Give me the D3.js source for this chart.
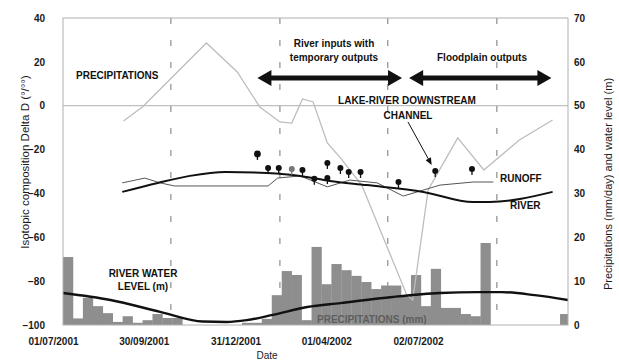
<!DOCTYPE html>
<html>
<head>
<meta charset="utf-8">
<script src="https://cdn.jsdelivr.net/npm/d3@7"></script>
<style>
body { margin: 0; background: #fff; }
svg { display: block; font-family: "Liberation Sans", Arial, sans-serif; }
</style>
</head>
<body>
<script>
"use strict";

var parseDay = d3.timeParse("%d/%m/%Y");

// axis ticks
var axisDates = ["01/07/2001", "30/09/2001", "31/12/2001", "01/04/2002", "02/07/2002"];
var leftTicks = [-100, -80, -60, -40, -20, 0, 20, 40];
var rightTicks = [0, 10, 20, 30, 40, 50, 60, 70];

// precipitation bars (mm), successive periods from 01/07/2001
var rainMm = [15.5, 1.5, 6.2, 4.3, 2.7, 0.7, 2.0, 0.5, 1.1, 2.5,
	1.6, 1.6, 0, 0, 0, 0, 0, 0, 0.5, 0.5,
	1.4, 6.8, 12.3, 11.4, 1.1, 17.8, 9.3, 13.9, 12.5, 11.2,
	9.8, 8.2, 9.0, 9.0, 6.8, 11.4, 4.3, 12.8, 3.9, 3.9,
	2.5, 2.0, 18.7, 0, 0, 0, 0, 0, 0, 0, 2.5];

// river water level (m)
var levelDates = ["01/07/2001", "10/08/2001", "21/09/2001", "27/10/2001", "16/11/2001",
	"03/12/2001", "25/12/2001", "23/01/2002", "20/02/2002", "05/04/2002",
	"15/05/2002", "16/06/2002", "06/07/2002", "03/08/2002", "31/08/2002"];
var levelM = [7.3, 5.7, 3.0, 0.8, 0.7, 1.1, 2.3, 4.1, 5.0, 6.4, 7.3, 7.5, 7.5, 6.8, 5.7];

// delta D of precipitations
var precipDates = ["21/08/2001", "06/09/2001", "30/10/2001", "25/11/2001", "14/12/2001",
	"31/12/2001", "10/01/2002", "19/01/2002", "28/01/2002", "09/02/2002",
	"20/02/2002", "10/03/2002", "17/04/2002", "22/04/2002", "05/05/2002",
	"30/05/2002", "21/06/2002", "21/07/2002", "18/08/2002"];
var precipDD = [-7, -0.6, 28.6, 15.4, -0.6, -7.4, -7.9, 3.1, 1.7, -17,
	-23.8, -36.2, -86.3, -88.6, -38.4, -14.7, -29.3, -15.6, -6.5];

// delta D of the river
var riverDates = ["20/08/2001", "19/09/2001", "16/10/2001", "15/11/2001", "20/12/2001",
	"17/01/2002", "11/02/2002", "14/03/2002", "01/05/2002", "12/06/2002",
	"26/06/2002", "18/08/2002"];
var riverDD = [-39.3, -35.2, -32.0, -30.2, -30.7, -32.0, -34.3, -36.2, -39.3, -43.9, -43.9, -39.3];

// delta D of runoff
var runoffDates = ["20/08/2001", "08/09/2001", "21/09/2001", "03/10/2001", "21/12/2001",
	"29/12/2001", "17/01/2002", "09/02/2002", "28/02/2002", "23/03/2002",
	"14/04/2002", "15/05/2002", "12/06/2002", "29/06/2002"];
var runoffDD = [-35.2, -33.0, -35.2, -36.6, -36.6, -33.0, -32.0, -37.0, -33.9, -35.2,
	-41.2, -36.2, -34.8, -34.8];

// lake-river downstream channel samples
var channelDates = ["12/12/2001", "21/12/2001", "30/12/2001", "10/01/2002", "19/01/2002",
	"29/01/2002", "09/02/2002", "09/02/2002", "20/02/2002", "27/02/2002",
	"09/03/2002", "10/04/2002", "11/05/2002", "11/06/2002"];
var channelDD = [-22.0, -28.4, -28.4, -28.9, -29.3, -33.3, -26.1, -33.0, -28.4, -30.2,
	-30.2, -34.8, -29.8, -28.9];

function zipSeries(dates, vals) {
	return dates.map(function (d, i) {
		return { date: parseDay(d), v: vals[i] };
	});
}

var W = 619, H = 360;
var pL = 63, pR = 568, pT = 18, pB = 325;

var svg = d3.select("body").append("svg")
	.attr("width", W)
	.attr("height", H);

svg.append("defs").append("clipPath")
	.attr("id", "plotClip")
	.append("rect")
	.attr("x", pL).attr("y", pT)
	.attr("width", pR - pL).attr("height", pB - pT);

var x = d3.scaleTime()
	.domain([parseDay("01/07/2001"), parseDay("31/08/2002")])
	.range([pL, pR]);

// the printed date labels sit left of their gridlines in the original figure
var xLabels = d3.scaleTime()
	.domain([parseDay(axisDates[0]), parseDay(axisDates[4])])
	.range([53, 418]);

var yL = d3.scaleLinear().domain([-100, 40]).range([pB, pT]);
var yR = d3.scaleLinear().domain([0, 70]).range([pB, pT]);

var xBar = d3.scaleBand()
	.domain(d3.range(rainMm.length))
	.range([pL, 570])
	.padding(0);

// gridlines
svg.append("g")
	.selectAll("line")
	.data(axisDates.slice(1).map(parseDay))
	.enter().append("line")
	.attr("x1", function (d) { return x(d); })
	.attr("x2", function (d) { return x(d); })
	.attr("y1", pT)
	.attr("y2", pB)
	.attr("stroke", "#666")
	.attr("stroke-width", 0.9)
	.attr("stroke-dasharray", "6,16");

svg.append("line")
	.attr("x1", pL).attr("x2", pR)
	.attr("y1", yL(0)).attr("y2", yL(0))
	.attr("stroke", "#b0b0b0");

var plot = svg.append("g").attr("clip-path", "url(#plotClip)");

// precipitation bars
plot.append("g")
	.selectAll("rect")
	.data(rainMm)
	.enter().append("rect")
	.attr("x", function (d, i) { return xBar(i); })
	.attr("y", function (d) { return yR(d); })
	.attr("width", xBar.bandwidth() + 0.3)
	.attr("height", function (d) { return yR(0) - yR(d); })
	.attr("fill", "#8e8e8e");

svg.append("text")
	.attr("x", 317)
	.attr("y", 323)
	.attr("font-size", "10px")
	.attr("font-weight", "bold")
	.attr("fill", "#5e5e5e")
	.text("PRECIPITATIONS (mm)");

// frame
svg.append("rect")
	.attr("x", pL).attr("y", pT)
	.attr("width", pR - pL).attr("height", pB - pT)
	.attr("fill", "none")
	.attr("stroke", "#b0b0b0");

var lineL = d3.line()
	.x(function (d) { return x(d.date); })
	.y(function (d) { return yL(d.v); });

var smoothL = d3.line()
	.curve(d3.curveMonotoneX)
	.x(function (d) { return x(d.date); })
	.y(function (d) { return yL(d.v); });

var smoothR = d3.line()
	.curve(d3.curveMonotoneX)
	.x(function (d) { return x(d.date); })
	.y(function (d) { return yR(d.v); });

plot.append("path")
	.attr("d", lineL(zipSeries(precipDates, precipDD)))
	.attr("fill", "none")
	.attr("stroke", "#bdbdbd")
	.attr("stroke-width", 1.3);

plot.append("path")
	.attr("d", lineL(zipSeries(runoffDates, runoffDD)))
	.attr("fill", "none")
	.attr("stroke", "#555")
	.attr("stroke-width", 1);

plot.append("path")
	.attr("d", smoothL(zipSeries(riverDates, riverDD)))
	.attr("fill", "none")
	.attr("stroke", "#111")
	.attr("stroke-width", 2);

plot.append("path")
	.attr("d", smoothR(zipSeries(levelDates, levelM)))
	.attr("fill", "none")
	.attr("stroke", "#111")
	.attr("stroke-width", 2.4);

// channel samples
var channel = zipSeries(channelDates, channelDD);
var pins = svg.append("g").selectAll("g")
	.data(channel)
	.enter().append("g");

pins.append("line")
	.attr("x1", function (d) { return x(d.date); })
	.attr("x2", function (d) { return x(d.date); })
	.attr("y1", function (d) { return yL(d.v); })
	.attr("y2", function (d) { return yL(d.v) + 6; })
	.attr("stroke", function (d, i) { return i === 3 ? "#777" : "#111"; })
	.attr("stroke-width", 1.3);

pins.append("circle")
	.attr("cx", function (d) { return x(d.date); })
	.attr("cy", function (d) { return yL(d.v); })
	.attr("r", function (d, i) { return i === 0 ? 3.4 : 3; })
	.attr("fill", function (d, i) { return i === 3 ? "#777" : "#111"; });

// period arrows
function bigArrow(x1, x2, yy) {
	var h = 14, w = 8, t = 2.5;
	return "M" + x1 + "," + yy +
		"L" + (x1 + h) + "," + (yy - w) + "L" + (x1 + h) + "," + (yy - t) +
		"L" + (x2 - h) + "," + (yy - t) + "L" + (x2 - h) + "," + (yy - w) +
		"L" + x2 + "," + yy +
		"L" + (x2 - h) + "," + (yy + w) + "L" + (x2 - h) + "," + (yy + t) +
		"L" + (x1 + h) + "," + (yy + t) + "L" + (x1 + h) + "," + (yy + w) + "Z";
}

var arrowY = yL(12.6);
svg.append("path")
	.attr("d", bigArrow(x(parseDay("12/12/2001")), x(parseDay("13/04/2002")), arrowY))
	.attr("fill", "#111");
svg.append("path")
	.attr("d", bigArrow(x(parseDay("19/04/2002")), x(parseDay("17/08/2002")), arrowY))
	.attr("fill", "#111");

// pointer to the channel sample
var px1 = x(parseDay("18/04/2002")), py1 = yL(-7.4);
var px2 = x(parseDay("08/05/2002")), py2 = yL(-27);
var ang = Math.atan2(py2 - py1, px2 - px1);
svg.append("line")
	.attr("x1", px1).attr("y1", py1)
	.attr("x2", px2 - 4 * Math.cos(ang)).attr("y2", py2 - 4 * Math.sin(ang))
	.attr("stroke", "#111")
	.attr("stroke-width", 1);
svg.append("path")
	.attr("d", "M0,0L-7,-3L-7,3Z")
	.attr("transform", "translate(" + px2 + "," + py2 + ") rotate(" + (ang * 180 / Math.PI) + ")")
	.attr("fill", "#111");

// annotations
var notes = [
	{ t: "PRECIPITATIONS", x: 76, y: 79, a: "start" },
	{ t: "River inputs with", x: 334, y: 46.5, a: "middle" },
	{ t: "temporary outputs", x: 334, y: 60.5, a: "middle" },
	{ t: "Floodplain outputs", x: 482, y: 60.5, a: "middle" },
	{ t: "LAKE-RIVER DOWNSTREAM", x: 407, y: 103.5, a: "middle" },
	{ t: "CHANNEL", x: 408, y: 118.5, a: "middle" },
	{ t: "RUNOFF", x: 500, y: 181.5, a: "start" },
	{ t: "RIVER", x: 510, y: 208.5, a: "start" },
	{ t: "RIVER WATER", x: 143, y: 276.5, a: "middle" },
	{ t: "LEVEL (m)", x: 143, y: 289.5, a: "middle" }
];

svg.append("g")
	.selectAll("text")
	.data(notes)
	.enter().append("text")
	.attr("x", function (d) { return d.x; })
	.attr("y", function (d) { return d.y; })
	.attr("text-anchor", function (d) { return d.a; })
	.attr("font-size", "10px")
	.attr("font-weight", "bold")
	.attr("fill", "#111")
	.text(function (d) { return d.t; });

// axes
var gLeft = svg.append("g")
	.attr("transform", "translate(" + pL + ",0)")
	.call(d3.axisLeft(yL).tickValues(leftTicks).tickSize(0).tickPadding(18));

var gRight = svg.append("g")
	.attr("transform", "translate(" + pR + ",0)")
	.call(d3.axisRight(yR).tickValues(rightTicks).tickSize(0).tickPadding(6));

var gBottom = svg.append("g")
	.attr("transform", "translate(0," + pB + ")")
	.call(d3.axisBottom(xLabels)
		.tickValues(axisDates.map(parseDay))
		.tickFormat(d3.timeFormat("%d/%m/%Y"))
		.tickSize(0)
		.tickPadding(13));

[gLeft, gRight, gBottom].forEach(function (g) {
	g.select(".domain").remove();
	g.selectAll("text")
		.attr("font-family", "Liberation Sans, Arial, sans-serif")
		.attr("font-size", "10px")
		.attr("font-weight", "bold")
		.attr("fill", "#1a1a1a");
});

svg.append("text")
	.attr("transform", "translate(29,162) rotate(-90)")
	.attr("text-anchor", "middle")
	.attr("font-size", "11.5px")
	.attr("fill", "#1a1a1a")
	.text("Isotopic composition Delta D (°/°°)");

svg.append("text")
	.attr("transform", "translate(612,184) rotate(-90)")
	.attr("text-anchor", "middle")
	.attr("font-size", "11px")
	.attr("fill", "#1a1a1a")
	.text("Precipitations (mm/day) and water level (m)");

svg.append("text")
	.attr("x", 267)
	.attr("y", 359)
	.attr("text-anchor", "middle")
	.attr("font-size", "10px")
	.attr("fill", "#222")
	.text("Date");
</script>
</body>
</html>
